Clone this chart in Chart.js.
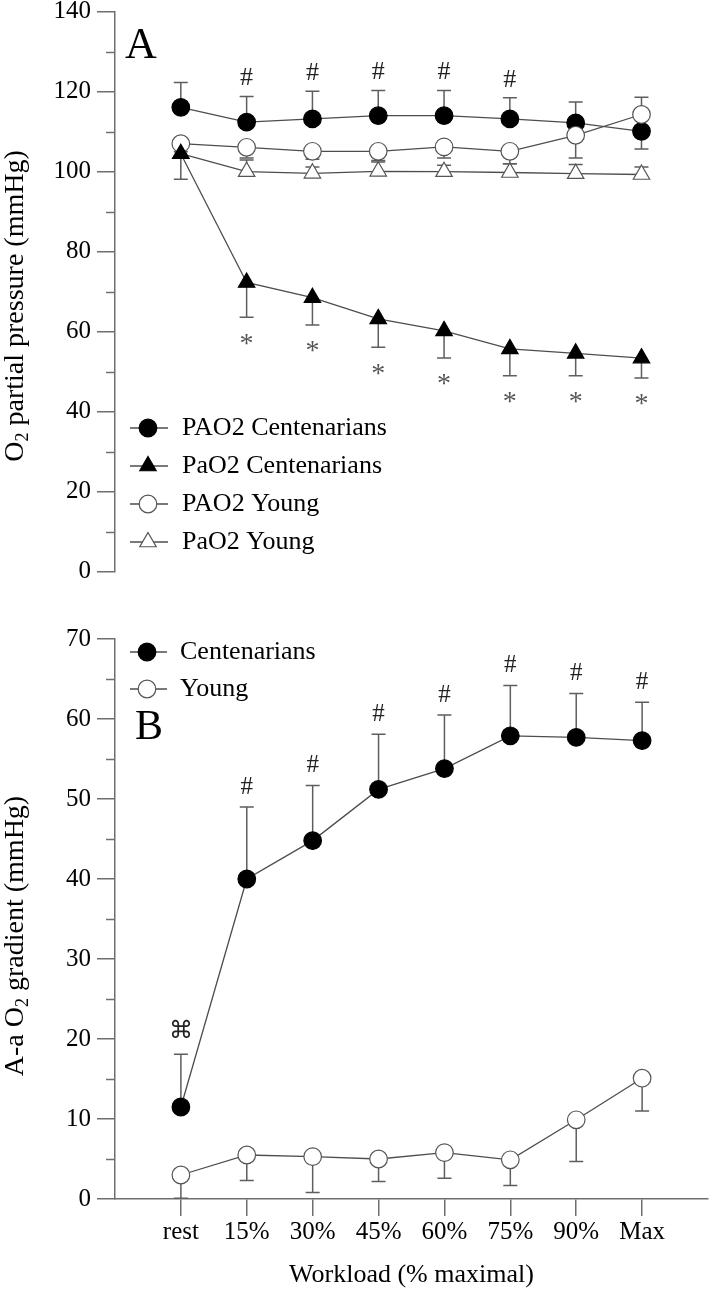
<!DOCTYPE html>
<html>
<head>
<meta charset="utf-8">
<script src="https://cdn.jsdelivr.net/npm/chart.js"></script>
<style>
    html, body { margin: 0; padding: 0; background: #fff; overflow: hidden; }
    #wrap { position: relative; width: 718px; height: 1289px; overflow: hidden; }
    canvas { position: absolute; left: 0; }
    #chartA { top: -40px; }
    #chartB { top: 600px; }
</style>
</head>
<body>
<div id="wrap">
    <canvas id="chartA" width="718" height="640"></canvas>
    <canvas id="chartB" width="718" height="700"></canvas>
</div>
<script>
const workloads = ['rest', '15%', '30%', '45%', '60%', '75%', '90%', 'Max'];

// panel A - O2 partial pressure (mmHg); error arrays are signed (negative = bar drawn downwards)
const pAO2Cent = [116.1, 112.4, 113.2, 114.0, 114.0, 113.2, 112.2, 110.1];
const pAO2CentErr = [6.2, 6.4, 6.9, 6.3, 6.3, 5.3, 5.2, -4.4];
const paO2Cent = [104.5, 72.3, 68.5, 63.2, 60.2, 55.7, 54.6, 53.4];
const paO2CentErr = [-6.4, -8.7, -6.8, -7.1, -6.8, -6.7, -5.6, -5.0];
const pAO2Young = [107.0, 106.1, 105.1, 105.1, 106.2, 105.1, 109.1, 114.3];
const pAO2YoungErr = [-2.0, -2.7, -2.0, -2.3, -2.8, -3.1, -5.7, 4.3];
const paO2Young = [104.5, 100.0, 99.6, 100.1, 100.0, 99.8, 99.5, 99.3];
const paO2YoungErr = [1.5, 2.9, 1.6, 2.3, 1.6, 2.2, 2.3, 1.9];

// panel B - A-a O2 gradient (mmHg)
const aaCent = [11.5, 40.0, 44.8, 51.2, 53.8, 57.9, 57.7, 57.3];
const aaCentErr = [6.6, 9.0, 6.9, 6.9, 6.7, 6.3, 5.5, 4.8];
const aaYoung = [3.0, 5.5, 5.3, 5.0, 5.8, 4.9, 9.9, 15.1];
const aaYoungErr = [-2.9, -3.2, -4.5, -2.8, -3.2, -3.2, -5.2, -4.1];

// significance marks (indices into workloads)
const hashA = [1, 2, 3, 4, 5];
const starA = [1, 2, 3, 4, 5, 6, 7];
const hashB = [1, 2, 3, 4, 5, 6, 7];
const cmdB = [0];

const serif = "'Liberation Serif', 'Times New Roman', serif";
const axisGray = '#6e6e6e';
const lineGray = '#4d4d4d';
Chart.defaults.font.family = serif;
Chart.defaults.color = '#000';

function xy(vals) {
    return vals.map((v, i) => ({ x: i, y: v }));
}

function series(label, vals, err, style, filled, order) {
    return {
        label: label,
        data: xy(vals),
        err: err,
        order: order,
        borderColor: lineGray,
        borderWidth: 1.3,
        pointStyle: style,
        pointRadius: style === 'triangle' ? 9.5 : 8.8,
        pointHoverRadius: style === 'triangle' ? 9.5 : 8.8,
        pointBackgroundColor: filled ? '#000' : '#fff',
        pointBorderColor: filled ? '#000' : '#555',
        pointBorderWidth: 1.2,
        tension: 0
    };
}

const errorBars = {
    id: 'errorBars',
    beforeDatasetsDraw(chart) {
        const { ctx, scales: { x, y } } = chart;
        ctx.save();
        ctx.strokeStyle = '#5e5e5e';
        ctx.lineWidth = 1.5;
        chart.data.datasets.forEach(function (ds) {
            ds.data.forEach(function (p, i) {
                const e = ds.err[i];
                if (!e) return;
                const px = x.getPixelForValue(p.x);
                const y0 = y.getPixelForValue(p.y);
                const y1 = y.getPixelForValue(p.y + e);
                ctx.beginPath();
                ctx.moveTo(px, y0);
                ctx.lineTo(px, y1);
                ctx.moveTo(px - 7, y1);
                ctx.lineTo(px + 7, y1);
                ctx.stroke();
            });
        });
        ctx.restore();
    }
};

function drawYTitle(ctx, parts, x, yc) {
    ctx.save();
    ctx.translate(x, yc);
    ctx.rotate(-Math.PI / 2);
    ctx.textAlign = 'left';
    ctx.textBaseline = 'alphabetic';
    ctx.fillStyle = '#000';
    let total = 0;
    parts.forEach(function (p) {
        ctx.font = p.size + 'px ' + serif;
        p.w = ctx.measureText(p.t).width;
        total += p.w;
    });
    let cx = -total / 2;
    parts.forEach(function (p) {
        ctx.font = p.size + 'px ' + serif;
        ctx.fillText(p.t, cx, p.dy || 0);
        cx += p.w;
    });
    ctx.restore();
}

function panelExtras(cfg) {
    return {
        id: 'panelExtras',
        afterDraw(chart) {
            const { ctx, scales: { x, y } } = chart;
            ctx.save();
            // minor ticks on the y axis
            ctx.strokeStyle = axisGray;
            ctx.lineWidth = 1.5;
            for (let v = cfg.minorStep; v < y.max; v += 2 * cfg.minorStep) {
                const py = Math.round(y.getPixelForValue(v)) + 0.5;
                ctx.beginPath();
                ctx.moveTo(chart.chartArea.left - 9, py);
                ctx.lineTo(chart.chartArea.left, py);
                ctx.stroke();
            }
            // significance marks
            cfg.marks.forEach(function (m) {
                const ds = chart.data.datasets[m.ds];
                ctx.font = m.font;
                ctx.fillStyle = m.color;
                ctx.textAlign = 'center';
                ctx.textBaseline = 'middle';
                m.idx.forEach(function (i) {
                    const e = ds.err[i];
                    const capY = y.getPixelForValue(ds.data[i].y + e);
                    ctx.fillText(m.text, x.getPixelForValue(i), e > 0 ? capY - m.gap : capY + m.gap);
                });
            });
            // panel letter
            ctx.font = cfg.letter.size + 'px ' + serif;
            ctx.fillStyle = '#000';
            ctx.textAlign = 'center';
            ctx.textBaseline = 'middle';
            ctx.fillText(cfg.letter.text, cfg.letter.x, cfg.letter.y);
            // legend
            const lg = cfg.legend;
            lg.rows.forEach(function (r) {
                const ds = chart.data.datasets[r.ds];
                ctx.strokeStyle = lineGray;
                ctx.lineWidth = 1.3;
                ctx.beginPath();
                ctx.moveTo(lg.x1, r.y);
                ctx.lineTo(lg.x2, r.y);
                ctx.stroke();
                ctx.fillStyle = ds.pointBackgroundColor;
                ctx.strokeStyle = ds.pointBorderColor;
                ctx.lineWidth = ds.pointBorderWidth;
                Chart.helpers.drawPoint(ctx, {
                    pointStyle: ds.pointStyle,
                    radius: ds.pointRadius,
                    borderWidth: ds.pointBorderWidth,
                    rotation: 0
                }, lg.xm, r.y);
                ctx.font = lg.size + 'px ' + serif;
                ctx.fillStyle = '#000';
                ctx.textAlign = 'left';
                ctx.textBaseline = 'middle';
                ctx.fillText(ds.label, lg.xt, r.y);
            });
            ctx.restore();
            drawYTitle(ctx, cfg.title.parts, cfg.title.x, cfg.title.y);
        }
    };
}

function yAxis(max, step) {
    return {
        min: 0,
        max: max,
        afterFit: function (s) { s.width = 115; },
        ticks: { stepSize: step, padding: 6, font: { size: 25 }, color: '#000' },
        grid: { drawOnChartArea: false, tickLength: 18, color: axisGray, lineWidth: 1.5 },
        border: { color: axisGray, width: 1.5 }
    };
}

const chartA = new Chart(document.getElementById('chartA'), {
    type: 'line',
    data: {
        datasets: [
            series('PAO2 Centenarians', pAO2Cent, pAO2CentErr, 'circle', true, 4),
            series('PaO2 Centenarians', paO2Cent, paO2CentErr, 'triangle', true, 1),
            series('PAO2 Young', pAO2Young, pAO2YoungErr, 'circle', false, 2),
            series('PaO2 Young', paO2Young, paO2YoungErr, 'triangle', false, 3)
        ]
    },
    options: {
        responsive: false,
        animation: false,
        events: [],
        layout: { padding: { top: 51.7, bottom: 28.3, left: 0, right: 1 } },
        plugins: { legend: { display: false }, tooltip: { enabled: false } },
        scales: {
            x: { type: 'linear', min: -1, max: 8, display: false },
            y: yAxis(140, 20)
        }
    },
    plugins: [errorBars, panelExtras({
        minorStep: 10,
        marks: [
            { ds: 0, idx: hashA, text: '#', gap: 18, font: '26px ' + serif, color: '#222' },
            { ds: 1, idx: starA, text: '*', gap: 27, font: '28px ' + serif, color: '#555' }
        ],
        letter: { text: 'A', x: 141, y: 86, size: 44 },
        legend: {
            x1: 130, x2: 168, xm: 148, xt: 182, size: 26,
            rows: [{ ds: 0, y: 468 }, { ds: 1, y: 506 }, { ds: 2, y: 544 }, { ds: 3, y: 582 }]
        },
        title: {
            x: 23, y: 346,
            parts: [
                { t: 'O', size: 28 },
                { t: '2', size: 18, dy: 5 },
                { t: ' partial pressure (mmHg)', size: 28 }
            ]
        }
    })]
});

const chartB = new Chart(document.getElementById('chartB'), {
    type: 'line',
    data: {
        datasets: [
            series('Centenarians', aaCent, aaCentErr, 'circle', true, 2),
            series('Young', aaYoung, aaYoungErr, 'circle', false, 1)
        ]
    },
    options: {
        responsive: false,
        animation: false,
        events: [],
        layout: { padding: { top: 39, bottom: 0, left: 0, right: 1 } },
        plugins: { legend: { display: false }, tooltip: { enabled: false } },
        scales: {
            x: {
                type: 'linear',
                min: -1,
                max: 8,
                afterFit: function (s) { s.height = 101; },
                afterBuildTicks: function (s) {
                    s.ticks = workloads.map((w, i) => ({ value: i }));
                },
                ticks: {
                    callback: function (v) { return workloads[v]; },
                    autoSkip: false,
                    maxRotation: 0,
                    padding: 1,
                    font: { size: 25 },
                    color: '#000'
                },
                grid: { drawOnChartArea: false, tickLength: 17, color: axisGray, lineWidth: 1.5 },
                border: { color: axisGray, width: 1.5 },
                title: {
                    display: true,
                    text: 'Workload (% maximal)',
                    font: { size: 26 },
                    color: '#000',
                    padding: { top: 0, bottom: 9 }
                }
            },
            y: yAxis(70, 10)
        }
    },
    plugins: [errorBars, panelExtras({
        minorStep: 5,
        marks: [
            { ds: 0, idx: hashB, text: '#', gap: 20, font: '25px ' + serif, color: '#222' },
            { ds: 0, idx: cmdB, text: '\u2318', gap: 22, font: "24px 'DejaVu Sans', sans-serif", color: '#222' }
        ],
        letter: { text: 'B', x: 149, y: 128, size: 42 },
        legend: {
            x1: 130, x2: 167, xm: 147, xt: 180, size: 26,
            rows: [{ ds: 0, y: 52 }, { ds: 1, y: 89 }]
        },
        title: {
            x: 23, y: 336,
            parts: [
                { t: 'A-a O', size: 28 },
                { t: '2', size: 18, dy: 5 },
                { t: ' gradient (mmHg)', size: 28 }
            ]
        }
    })]
});
</script>
</body>
</html>
